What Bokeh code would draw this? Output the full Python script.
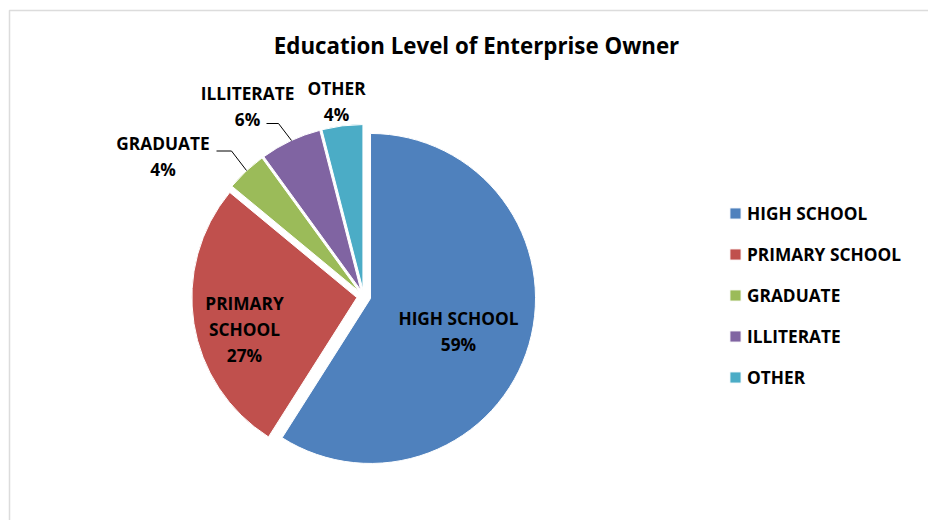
import math
from bokeh.plotting import figure
from bokeh.models import Range1d, ColumnDataSource, Legend, LegendItem, Label, BoxAnnotation
from bokeh.core.properties import value
from bokeh.embed import file_html
from bokeh.resources import INLINE

# ---- data ----
categories = ["HIGH SCHOOL", "PRIMARY SCHOOL", "GRADUATE", "ILLITERATE", "OTHER"]
shares = [59, 27, 4, 6, 4]
colors = ["#4F81BD", "#C0504D", "#9BBB59", "#8064A2", "#4BACC6"]
label_names = [["HIGH SCHOOL"], ["PRIMARY", "SCHOOL"], ["GRADUATE"], ["ILLITERATE"], ["OTHER"]]
title_text = "Education Level of Enterprise Owner"

# ---- layout (pixel space, y measured from top) ----
W, H = 928, 520
FONT = "Open Sans"
FSV = 17.3
FS = f"{FSV}px"
TFSV = 22.3
cx_px, cy_px, R, EXPLODE = 363.3, 296.0, 165.0, 7.0
# first-line baseline of each data label (pixels from top) and centre x
label_pos = [(458, 325.7), (244, 310.7), (162.5, 150), (247, 100), (336, 95)]
LINE_STEP = 26
leaders = {2: [(216, 150.5), (231, 150.5), (246, 170)],
           3: [(266, 123), (278, 123), (291, 140)]}
BASE_FIX = 0.43  # baseline correction, in em

def fy(y_px):
    return H - y_px

total = float(sum(shares))
cum = 0.0
xs, ys, starts, ends = [], [], [], []
for v in shares:
    f0 = cum / total
    f1 = (cum + v) / total
    cum += v
    a0 = math.pi / 2 - 2 * math.pi * f0
    a1 = math.pi / 2 - 2 * math.pi * f1
    mid = (a0 + a1) / 2
    xs.append(cx_px + EXPLODE * math.cos(mid))
    ys.append(fy(cy_px) + EXPLODE * math.sin(mid))
    starts.append(a0)
    ends.append(a1)

src = ColumnDataSource(dict(x=xs, y=ys, start=starts, end=ends, color=colors, cat=categories))

p = figure(width=W, height=H, output_backend="svg", toolbar_location=None,
           x_range=Range1d(0, W), y_range=Range1d(0, H),
           x_axis_type=None, y_axis_type=None, min_border=0,
           outline_line_color=None, background_fill_color="white", border_fill_color="white")
p.grid.visible = False

# chart frame
p.add_layout(BoxAnnotation(left=9, right=W + 50, top=fy(10), bottom=-50,
                           fill_alpha=0, line_color="#8a8a8a", line_width=1.5))

r = p.wedge(x="x", y="y", radius=R, start_angle="start", end_angle="end",
            direction="clock", fill_color="color", line_color="white", line_width=1,
            source=src)

# data labels
tx, ty, tt = [], [], []
for i, names in enumerate(label_names):
    pct = f"{shares[i] / total * 100:.0f}%"
    lines = names + [pct]
    x0, y0 = label_pos[i]
    for k, t in enumerate(lines):
        tx.append(x0)
        ty.append(fy(y0 + k * LINE_STEP - BASE_FIX * FSV))
        tt.append(t)
p.text(x=tx, y=ty, text=tt, text_align="center", text_baseline="alphabetic",
       text_font=value(FONT), text_font_style="bold", text_font_size=FS, text_color="black")

# leader lines
p.multi_line(xs=[[a for a, b in pts] for pts in leaders.values()],
             ys=[[fy(b) for a, b in pts] for pts in leaders.values()],
             line_color="black", line_width=1)

# title
p.add_layout(Label(x=476, y=fy(55 - BASE_FIX * TFSV), text=title_text, text_align="center",
                   text_baseline="alphabetic", text_font=FONT, text_font_style="bold",
                   text_font_size=f"{TFSV}px", text_color="black"))

# legend
LH, LSP = 30, 11
legend_top_px = 213 - LH / 2
legend_h = 5 * LH + 4 * LSP
items = [LegendItem(label=c, renderers=[r], index=i) for i, c in enumerate(categories)]
legend = Legend(items=items, location=(728, fy(legend_top_px + legend_h)),
                orientation="vertical", padding=0, margin=0, spacing=LSP,
                label_height=LH, glyph_width=14, glyph_height=14, label_standoff=5,
                label_text_font=FONT, label_text_font_style="bold", label_text_font_size=FS,
                label_text_color="black", border_line_color=None, background_fill_alpha=0)
p.add_layout(legend)

open("out.html", "w").write(file_html(p, INLINE))
